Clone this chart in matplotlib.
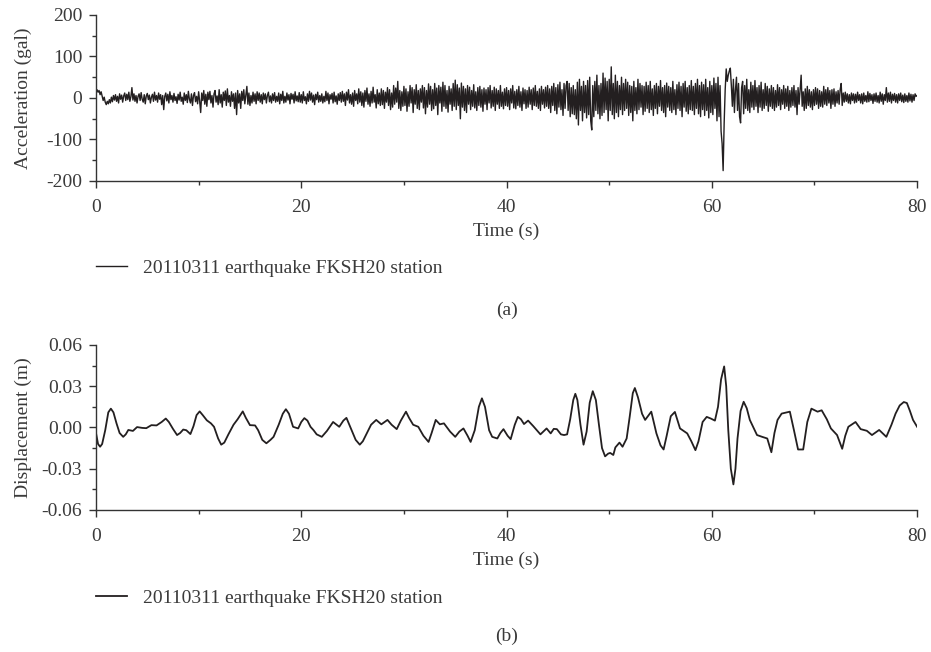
import numpy as np
import matplotlib
matplotlib.use("Agg")
import matplotlib.pyplot as plt
from matplotlib.ticker import MultipleLocator, FuncFormatter

# acceleration record (gal), sampled every 0.1 s from 0 to 80 s (one row = 2 s)
acc_dt = 0.1
acc = [
    12, 20, 14, 18, 8, 15, 4, -6, 2, -10, -16, -8, -14, -4, -12, 2, -9, 6, -5, 8,
    -8, 4, -12, 10, -3, 7, -10, 5, 12, -6, 9, -4, 14, -8, 3, 25, -5, 10, -8, 6,
    -12, 4, 10, -6, 13, -3, -10, 8, -14, 5, 11, -4, 7, -12, 2, 9, -8, 14, -5, 6,
    -10, 12, -3, 8, -16, 6, -28, 4, 12, -7, 9, -12, 15, -4, 6, -10, 11, -6, 3, -13,
    9, -5, 14, -8, 2, -15, 12, -6, 8, -11, 16, -3, -12, 10, -18, 6, 13, -9, 4, -14,
    15, -8, -35, 12, -6, 18, -15, 9, -20, 14, -4, 16, -12, 6, -22, 10, 18, -10, 5, -16,
    20, -12, 8, -22, 14, -6, 17, -18, 22, -10, 6, -20, 15, -8, 10, -25, 12, -40, 18, -12,
    10, -25, 16, -6, 20, -14, 8, 28, -15, 12, -18, 6, -12, 14, -8, 10, -14, 15, -6, 12,
    -10, 8, -14, 12, -4, 10, -12, 6, 14, -9, 5, -12, 10, -6, 13, -10, 4, -8, 12, -14,
    9, -6, 16, -12, 4, -10, 12, -5, 8, -14, 11, -3, 9, -12, 15, -7, 5, -9, 13, -10,
    8, -12, 15, -6, 3, -14, 10, -8, 16, -5, 12, -10, 7, -16, 9, -4, 14, -10, 6, -8,
    10, -12, 4, -9, 16, -6, 12, -14, 8, -3, 11, -12, 14, -9, 5, -15, 10, -6, 13, -10,
    16, -8, 10, -18, 14, -5, 20, -12, 8, -15, 12, -20, 18, -6, 10, -14, 22, -10, 15, -18,
    12, -22, 18, -8, 24, -15, 10, -20, 16, -12, 26, -10, 8, -24, 20, -14, 12, -18, 22, -16,
    18, -25, 14, -10, 25, -18, 20, -28, 12, -22, 30, -15, 24, -10, 40, -25, 18, -30, 15, -20,
    28, -18, 22, -32, 15, -20, 30, -12, 25, -35, 20, -15, 32, -25, 18, -28, 22, -10, 30, -24,
    25, -38, 18, -22, 34, -15, 28, -30, 20, -26, 35, -18, 24, -40, 30, -12, 26, -32, 38, -20,
    30, -25, 18, -34, 28, -15, 22, -30, 35, -20, 43, -28, 32, -18, 24, -50, 36, -22, 28, -30,
    22, -35, 30, -15, 26, -28, 18, -20, 32, -24, 15, -30, 25, -18, 28, -22, 20, -32, 24, -15,
    20, -28, 25, -12, 30, -24, 18, -20, 26, -30, 22, -15, 18, -25, 30, -20, 14, -26, 22, -18,
    25, -20, 18, -28, 22, -12, 30, -24, 16, -26, 20, -18, 28, -22, 15, -30, 24, -14, 20, -25,
    18, -22, 26, -15, 20, -28, 24, -18, 30, -20, 16, -25, 22, -30, 28, -15, 20, -24, 26, -20,
    30, -25, 22, -35, 28, -18, 35, -30, 25, -38, 32, -22, 38, -28, 20, -42, 35, -25, 30, 40,
    -30, 35, -45, 25, -38, 30, -40, 20, -50, 38, -65, 45, -30, 28, -55, 40, -35, 30, -48, 42,
    -40, 50, -55, -77, 30, -45, 40, -30, 55, -38, 30, -50, 35, -42, 60, -35, 48, -28, 40, -55,
    45, -30, 75, -40, 35, -50, 55, -35, 40, -45, 30, -28, 50, -40, 35, -30, 45, -25, 38, -42,
    30, -35, 28, -55, 40, -30, 25, -38, 45, -28, 35, -22, 30, -40, 28, -32, 38, -25, 30, -35,
    40, -28, 22, -42, 30, -25, 35, -38, 28, -20, 42, -30, 25, -35, 30, -45, 36, -22, 28, -30,
    25, -35, 40, -28, 20, -40, 32, -25, 38, -30, 28, -45, 35, -22, 40, -32, 25, -38, 30, -28,
    42, -30, 28, -40, 35, -25, 45, -38, 30, -45, 38, -28, 32, -42, 45, -30, 25, -48, 40, -35,
    30, -40, 48, -25, 35, -55, 50, -45, 30, -80, -110, -175, -60, 20, 70, 40, 55, 65, 72, 30,
    -20, 45, -35, 20, 50, -30, 35, -45, -60, 25, 40, -38, 30, -25, 45, -30, 20, -35, 38, -22,
    30, -28, 42, -20, 25, -35, 30, -22, 38, -30, 20, -25, 35, -18, 28, -32, 22, -20, 30, -25,
    25, -30, 18, -22, 32, -18, 25, -28, 20, -15, 30, -25, 22, -20, 28, -30, 18, -22, 25, -18,
    30, -22, 18, -40, 25, -15, 20, 55, -20, 15, -30, 22, -25, 28, -18, 20, -22, 15, -28, 20,
    -18, 25, -15, 22, -25, 18, -20, 15, -22, 28, -15, 20, -18, 25, -12, 18, -25, 20, -15, 22,
    -20, 15, -12, 18, -15, 20, 35, -18, 12, -10, 14, -8, 10, -12, 8, -14, 12, -6, 10, -12,
    9, -10, 14, -6, 8, -12, 10, -14, 12, -8, 6, -10, 15, -9, 11, -6, 8, -13, 10, -8,
    12, -10, 6, -12, 14, -8, 10, -15, 8, -6, 25, -10, 12, -8, 14, -12, 9, -6, 11, -10,
    8, -12, 10, -6, 12, -9, 7, -11, 10, -8, 6, -10, 12, -7, 9, -10, 8, -6, 10, 4,
    6,
]
acc_t = np.arange(len(acc)) * acc_dt

# displacement record (m)
disp_t = [
    0.0, 0.2, 0.4, 0.6, 0.9, 1.2, 1.45, 1.7, 2.0, 2.3, 2.65, 2.9, 3.15, 3.4, 3.6, 4.0,
    4.5, 4.9, 5.4, 5.9, 6.4, 6.8, 7.1, 7.5, 7.9, 8.2, 8.5, 8.8, 9.2, 9.5, 9.8, 10.1,
    10.4, 10.8, 11.2, 11.5, 11.9, 12.2, 12.5, 12.9, 13.4, 13.8, 14.3, 14.6, 15.0, 15.5,
    15.8, 16.2, 16.6, 17.0, 17.3, 17.8, 18.2, 18.5, 18.8, 19.2, 19.7, 20.0, 20.3, 20.6,
    20.9, 21.2, 21.5, 22.0, 22.5, 23.1, 23.7, 24.1, 24.4, 24.9, 25.3, 25.7, 26.0, 26.4,
    26.8, 27.3, 27.8, 28.4, 28.8, 29.3, 29.7, 30.2, 30.5, 30.9, 31.4, 31.9, 32.4, 32.7,
    33.1, 33.5, 33.9, 34.5, 35.0, 35.4, 35.8, 36.2, 36.5, 36.9, 37.3, 37.6, 37.9, 38.3,
    38.6, 39.1, 39.4, 39.7, 40.1, 40.4, 40.8, 41.1, 41.4, 41.7, 42.1, 42.6, 43.3, 43.9,
    44.3, 44.6, 44.9, 45.3, 45.6, 45.9, 46.2, 46.5, 46.7, 46.9, 47.2, 47.5, 47.8, 48.1,
    48.4, 48.7, 49.0, 49.3, 49.6, 49.9, 50.1, 50.4, 50.6, 51.0, 51.3, 51.7, 52.0, 52.3,
    52.5, 52.8, 53.2, 53.5, 54.1, 54.6, 55.0, 55.3, 55.6, 56.0, 56.4, 56.9, 57.6, 58.0,
    58.4, 58.7, 59.1, 59.5, 59.9, 60.3, 60.6, 60.9, 61.2, 61.4, 61.6, 61.85, 62.1, 62.3,
    62.5, 62.8, 63.1, 63.4, 63.7, 64.4, 64.9, 65.4, 65.8, 66.1, 66.4, 66.8, 67.3, 67.6,
    68.0, 68.4, 68.9, 69.3, 69.7, 70.3, 70.7, 71.2, 71.6, 72.2, 72.7, 73.0, 73.3, 74.0,
    74.5, 75.1, 75.6, 76.3, 77.0, 77.5, 77.9, 78.3, 78.7, 79.0, 79.3, 79.6, 80.0,
]
disp = [
    -0.004, -0.012, -0.014, -0.012, -0.002, 0.011, 0.0137, 0.011, 0.003, -0.004, -0.0068, -0.005, -0.0018, -0.0022, -0.0025, 0.0003,
    -0.0003, -0.0005, 0.0017, 0.0015, 0.004, 0.0065, 0.004, -0.001, -0.0055, -0.004, -0.0015, -0.002, -0.0048, 0.001, 0.009, 0.0117,
    0.009, 0.0052, 0.003, 0.0005, -0.008, -0.0125, -0.011, -0.005, 0.002, 0.006, 0.0117, 0.007, 0.0017, 0.0015,
    -0.002, -0.009, -0.0115, -0.009, -0.0068, 0.002, 0.010, 0.0133, 0.010, 0.0005, -0.0007, 0.004, 0.0068, 0.005,
    0.0005, -0.002, -0.005, -0.0068, -0.0025, 0.004, 0.0005, 0.005, 0.007, -0.002, -0.009, -0.0125, -0.010, -0.004,
    0.002, 0.0055, 0.0023, 0.0055, 0.002, -0.0012, 0.005, 0.0115, 0.007, 0.002, 0.0005, -0.006, -0.0105, -0.004,
    0.0055, 0.0023, 0.003, -0.003, -0.0068, -0.003, -0.0007, -0.006, -0.0105, -0.002, 0.015, 0.0212, 0.015, -0.002,
    -0.0068, -0.008, -0.004, -0.0012, -0.006, -0.0085, 0.002, 0.0077, 0.006, 0.0025, 0.005, 0.001, -0.005, -0.0007,
    -0.0043, -0.001, -0.0012, -0.005, -0.0055, -0.005, 0.006, 0.020, 0.0245, 0.020, 0.002, -0.0125, -0.003, 0.018,
    0.0264, 0.020, 0.002, -0.015, -0.021, -0.019, -0.0185, -0.020, -0.0145, -0.011, -0.014, -0.008, 0.008, 0.025,
    0.0287, 0.022, 0.010, 0.0055, 0.0115, -0.0043, -0.013, -0.016, -0.006, 0.0082, 0.0113, -0.0007, -0.0043, -0.010,
    -0.0165, -0.010, 0.004, 0.0077, 0.0065, 0.005, 0.015, 0.035, 0.0444, 0.030, -0.0018, -0.030, -0.0414, -0.030,
    -0.008, 0.012, 0.0187, 0.014, 0.0055, -0.0055, -0.0068, -0.008, -0.018, -0.004, 0.0055, 0.0101, 0.011, 0.0115,
    -0.002, -0.016, -0.016, 0.004, 0.0137, 0.0115, 0.0125, 0.006, -0.0007, -0.0055, -0.0155, -0.006, 0.0005, 0.004,
    -0.0012, -0.0024, -0.0055, -0.0018, -0.0068, 0.002, 0.0101, 0.016, 0.0185, 0.0178, 0.012, 0.0055, 0.0005,
]

label = "20110311 earthquake FKSH20 station"
txt = "#3a3a3a"
lc = "#231f20"

plt.rcParams["font.family"] = ["Liberation Serif", "DejaVu Serif"]
plt.rcParams["font.size"] = 14

fig = plt.figure(figsize=(9.31, 6.52), dpi=100)
ax1 = fig.add_axes([0.1031, 0.7224, 0.882, 0.2546])
ax2 = fig.add_axes([0.1031, 0.2178, 0.882, 0.2531])

ax1.plot(acc_t, acc, color=lc, lw=1.0, label=label)
ax2.plot(disp_t, disp, color=lc, lw=1.3, label=label)

ax1.set_ylim(-200, 200)
ax1.yaxis.set_major_locator(MultipleLocator(100))
ax1.yaxis.set_minor_locator(MultipleLocator(50))
ax1.yaxis.set_major_formatter(FuncFormatter(lambda v, p: "%d" % v))
ax1.set_ylabel("Acceleration (gal)", color=txt)

ax2.set_ylim(-0.06, 0.06)
ax2.yaxis.set_major_locator(MultipleLocator(0.03))
ax2.yaxis.set_minor_locator(MultipleLocator(0.015))
ax2.yaxis.set_major_formatter(FuncFormatter(lambda v, p: "%.2f" % v if abs(v) > 1e-9 else "0.00"))
ax2.set_ylabel("Displacement (m)", color=txt)

for ax, tag, ly, ty in [(ax1, "(a)", -0.524, -0.777), (ax2, "(b)", -0.533, -0.764)]:
    ax.set_xlim(0, 80)
    ax.xaxis.set_major_locator(MultipleLocator(20))
    ax.xaxis.set_minor_locator(MultipleLocator(10))
    ax.set_xlabel("Time (s)", color=txt, labelpad=5)
    ax.yaxis.set_label_coords(-0.078, 0.5)
    ax.spines["top"].set_visible(False)
    ax.spines["right"].set_visible(False)
    for s in ["left", "bottom"]:
        ax.spines[s].set_color("#333333")
        ax.spines[s].set_linewidth(1.0)
    ax.tick_params(which="major", direction="out", length=5, width=1.0, colors="#333333", labelcolor=txt)
    ax.tick_params(which="minor", direction="out", length=3, width=1.0, colors="#333333")
    ax.tick_params(axis="x", which="major", pad=8)
    ax.tick_params(axis="y", which="major", pad=5)
    leg = ax.legend(loc="center left", bbox_to_anchor=(0.0, ly), frameon=False,
                    borderaxespad=0, borderpad=0, handlelength=1.6, handletextpad=0.8)
    for t in leg.get_texts():
        t.set_color(txt)
    ax.text(0.5, ty, tag, transform=ax.transAxes, ha="center", va="center", color=txt)

fig.savefig("out.png", dpi=100)
